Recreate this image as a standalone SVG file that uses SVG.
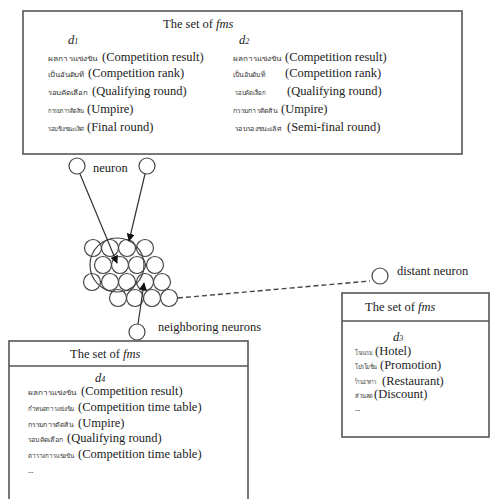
<svg xmlns="http://www.w3.org/2000/svg" width="491" height="499" viewBox="0 0 491 499">
<style>
.box{fill:#fff;stroke:#555;stroke-width:1.6}
.t{font-family:"Liberation Serif","Times New Roman",serif;font-size:12.5px;fill:#222}
.th{font-family:"Noto Sans","DejaVu Sans",sans-serif;font-size:6.5px;fill:#333}
.lbl{font-family:"Liberation Serif","Times New Roman",serif;font-size:12.5px;fill:#222}
.it{font-style:italic}
.n{fill:#fff;stroke:#444;stroke-width:1.2}
.big{fill:none;stroke:#444;stroke-width:1.2}
.ln{stroke:#333;stroke-width:1.2;fill:none}
.dash{stroke:#444;stroke-width:1.4;stroke-dasharray:5,3;fill:none}
</style>
<defs>
<marker id="ah" viewBox="0 0 10 10" refX="9" refY="5" markerWidth="8" markerHeight="8" markerUnits="userSpaceOnUse" orient="auto">
<path d="M0,0 L10,5 L0,10 z" fill="#111"/>
</marker>
</defs>
<rect width="491" height="499" fill="#fff"/>

<g id="top-box">
<rect class="box" x="23" y="11" width="439" height="143"/>
<text class="t" x="163" y="28">The set of <tspan class="it">fms</tspan></text>
<text class="t it" x="68" y="44">d<tspan font-size="8">1</tspan></text>
<text class="t it" x="239" y="44">d<tspan font-size="8">2</tspan></text>
<text class="th" x="48" y="61" textLength="49" lengthAdjust="spacingAndGlyphs">ผลการแข่งขัน</text><text class="t" x="102" y="61">(Competition result)</text>
<text class="th" x="48" y="77" textLength="36" lengthAdjust="spacingAndGlyphs">เป็นอันดับที่</text><text class="t" x="88" y="77">(Competition rank)</text>
<text class="th" x="48" y="95" textLength="40" lengthAdjust="spacingAndGlyphs">รอบคัดเลือก</text><text class="t" x="92" y="95">(Qualifying round)</text>
<text class="th" x="48" y="113" textLength="36" lengthAdjust="spacingAndGlyphs">กรรมการตัดสิน</text><text class="t" x="87" y="113">(Umpire)</text>
<text class="th" x="48" y="131" textLength="36" lengthAdjust="spacingAndGlyphs">รอบชิงชนะเลิศ</text><text class="t" x="87" y="131">(Final round)</text>
<text class="th" x="233" y="61" textLength="48" lengthAdjust="spacingAndGlyphs">ผลการแข่งขัน</text><text class="t" x="285" y="61">(Competition result)</text>
<text class="th" x="233" y="77" textLength="32" lengthAdjust="spacingAndGlyphs">เป็นอันดับที่</text><text class="t" x="285" y="77">(Competition rank)</text>
<text class="th" x="235" y="95" textLength="31" lengthAdjust="spacingAndGlyphs">รอบคัดเลือก</text><text class="t" x="287" y="95">(Qualifying round)</text>
<text class="th" x="233" y="113" textLength="44" lengthAdjust="spacingAndGlyphs">กรรมการตัดสิน</text><text class="t" x="281" y="113">(Umpire)</text>
<text class="th" x="235" y="131" textLength="46" lengthAdjust="spacingAndGlyphs">รอบรองชนะเลิศ</text><text class="t" x="287" y="131">(Semi-final round)</text>
</g>

<g id="neuron-1"><circle class="n" cx="77" cy="166" r="8"/></g>
<g id="neuron-2"><circle class="n" cx="147" cy="166" r="8"/></g>
<g id="neuron-label"><text class="lbl" x="93" y="172">neuron</text></g>

<g id="som-cluster">
<circle class="n" cx="93" cy="248" r="8.5"/>
<circle class="n" cx="110" cy="248" r="8.5"/>
<circle class="n" cx="127" cy="248" r="8.5"/>
<circle class="n" cx="145" cy="248" r="8.5"/>
<circle class="n" cx="103" cy="265" r="8.5"/>
<circle class="n" cx="120" cy="265" r="8.5"/>
<circle class="n" cx="137" cy="265" r="8.5"/>
<circle class="n" cx="155" cy="265" r="8.5"/>
<circle class="n" cx="92" cy="282" r="8.5"/>
<circle class="n" cx="110" cy="282" r="8.5"/>
<circle class="n" cx="127" cy="282" r="8.5"/>
<circle class="n" cx="145" cy="282" r="8.5"/>
<circle class="n" cx="162" cy="282" r="8.5"/>
<circle class="n" cx="118" cy="298" r="8.5"/>
<circle class="n" cx="135" cy="298" r="8.5"/>
<circle class="n" cx="152" cy="298" r="8.5"/>
<circle class="n" cx="169" cy="298" r="8.5"/>
<circle class="big" cx="117" cy="265" r="27"/>
</g>

<g id="distant-neuron">
<circle class="n" cx="380" cy="276" r="8"/>
<text class="lbl" x="397" y="275">distant neuron</text>
</g>

<g id="neighboring-neuron">
<circle class="n" cx="137" cy="332" r="8"/>
<text class="lbl" x="158" y="331">neighboring neurons</text>
</g>

<g id="connectors">
<line class="ln" x1="80" y1="174" x2="117" y2="263" marker-end="url(#ah)"/>
<line class="ln" x1="145" y1="174" x2="129" y2="241" marker-end="url(#ah)"/>
<line class="ln" x1="138" y1="324" x2="144" y2="283" marker-end="url(#ah)"/>
<line class="dash" x1="178" y1="298" x2="370" y2="281"/>
</g>

<g id="box-d3">
<rect class="box" x="342" y="293" width="147" height="144"/>
<line class="box" x1="342" y1="321" x2="489" y2="321"/>
<text class="t" x="365" y="311">The set of <tspan class="it">fms</tspan></text>
<text class="t it" x="393" y="341">d<tspan font-size="8">3</tspan></text>
<text class="th" x="355" y="355" textLength="17" lengthAdjust="spacingAndGlyphs">โรงแรม</text><text class="t" x="375" y="355">(Hotel)</text>
<text class="th" x="355" y="369" textLength="22" lengthAdjust="spacingAndGlyphs">โปรโมชั่น</text><text class="t" x="380" y="369">(Promotion)</text>
<text class="th" x="355" y="384" textLength="21" lengthAdjust="spacingAndGlyphs">ร้านอาหาร</text><text class="t" x="382" y="384.5">(Restaurant)</text>
<text class="th" x="355" y="398" textLength="18" lengthAdjust="spacingAndGlyphs">ส่วนลด</text><text class="t" x="374" y="398">(Discount)</text>
<text class="th" x="355" y="411">...</text>
</g>

<g id="box-d4">
<rect class="box" x="9" y="341" width="239" height="170"/>
<line class="box" x1="9" y1="366" x2="248" y2="366"/>
<text class="t" x="70" y="358">The set of <tspan class="it">fms</tspan></text>
<text class="t it" x="95" y="382">d<tspan font-size="8">4</tspan></text>
<text class="th" x="28" y="395" textLength="48" lengthAdjust="spacingAndGlyphs">ผลการแข่งขัน</text><text class="t" x="81" y="395">(Competition result)</text>
<text class="th" x="28" y="411" textLength="46" lengthAdjust="spacingAndGlyphs">กำหนดการแข่งขัน</text><text class="t" x="78" y="411">(Competition time table)</text>
<text class="th" x="28" y="427" textLength="45" lengthAdjust="spacingAndGlyphs">กรรมการตัดสิน</text><text class="t" x="78" y="427">(Umpire)</text>
<text class="th" x="28" y="442" textLength="35" lengthAdjust="spacingAndGlyphs">รอบคัดเลือก</text><text class="t" x="67" y="442">(Qualifying round)</text>
<text class="th" x="28" y="458" textLength="46" lengthAdjust="spacingAndGlyphs">ตารางการแข่งขัน</text><text class="t" x="78" y="458">(Competition time table)</text>
<text class="th" x="28" y="473">...</text>
</g>
</svg>
